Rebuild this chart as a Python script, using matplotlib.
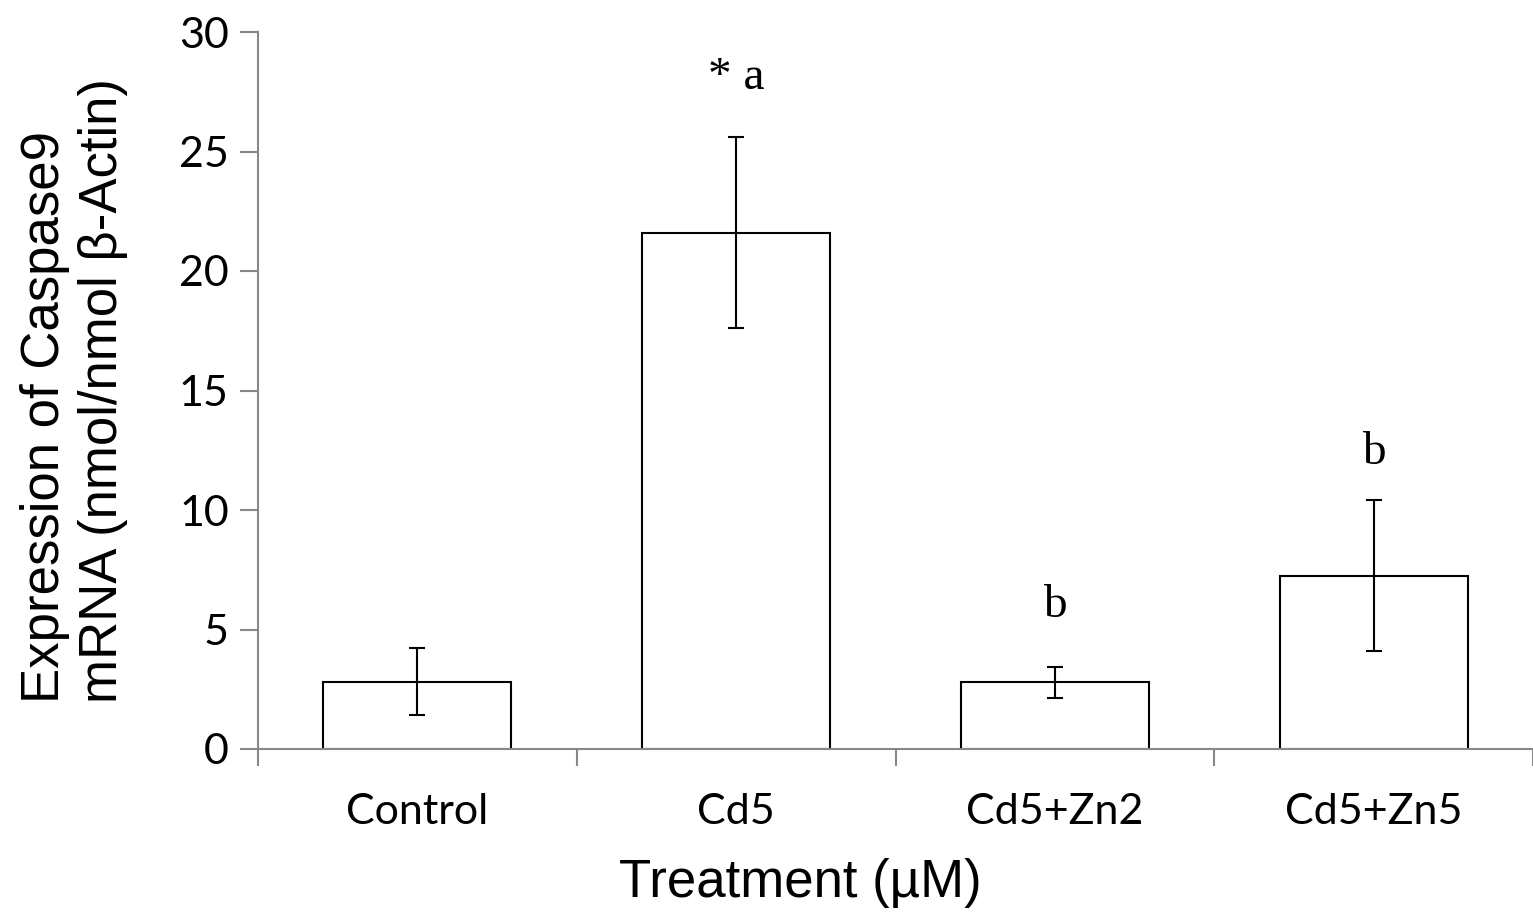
import numpy as np
import matplotlib.pyplot as plt

groups = ['Control', 'Cd5', 'Cd5+Zn2', 'Cd5+Zn5']
means = [2.82, 21.6, 2.8, 7.25]
errs = [1.4, 4.0, 0.65, 3.17]
letters = ['', '* a', 'b', 'b']
letter_y = [0, 28.1, 6.0, 12.4]

fig = plt.figure(figsize=(15.33, 9.17), dpi=100)
ax = fig.add_axes([258/1533, 1-749/917, 1-258/1533, (749-32)/917])

x = np.arange(len(groups))
ax.bar(x, means, width=0.59, color='white', edgecolor='black', linewidth=1.5, zorder=2)
ax.errorbar(x, means, yerr=errs, fmt='none', ecolor='black', elinewidth=1.5,
            capsize=6, capthick=1.5, zorder=3)

for xi, t, ty in zip(x, letters, letter_y):
    if t:
        ax.text(xi, ty, t, ha='center', va='center', fontsize=34,
                family='Liberation Serif')

ax.set_xlim(-0.5, 3.5)
ax.set_ylim(0, 30)
ax.set_yticks([0, 5, 10, 15, 20, 25, 30])
ax.set_xticks(x)
ax.set_xticklabels(groups)
ax.set_xticks(np.arange(-0.5, 4, 1), minor=True)
ax.tick_params(axis='x', which='major', length=0, pad=32, labelsize=31)
ax.tick_params(axis='x', which='minor', length=12, width=1.5, color='#888888', direction='out')
ax.tick_params(axis='y', length=13, width=1.5, color='#888888', labelsize=31, pad=8)
for lab in ax.get_xticklabels() + ax.get_yticklabels():
    lab.set_family('Lato')

for s in ['top', 'right']:
    ax.spines[s].set_visible(False)
for s in ['left', 'bottom']:
    ax.spines[s].set_color('#888888')
    ax.spines[s].set_linewidth(1.5)

ax.set_ylabel('Expression of Caspase9\nmRNA (nmol/nmol \u03b2-Actin)', fontsize=38,
              family='Liberation Sans', linespacing=1.2, multialignment='left')
ax.yaxis.set_label_coords(-0.102, 0.5)
ax.set_xlabel('Treatment (\u00b5M)', fontsize=38, family='Liberation Sans')
ax.xaxis.set_label_coords(0.425, -0.152)
ax.xaxis.label.set_va('top')

fig.savefig('out.png', dpi=100)
